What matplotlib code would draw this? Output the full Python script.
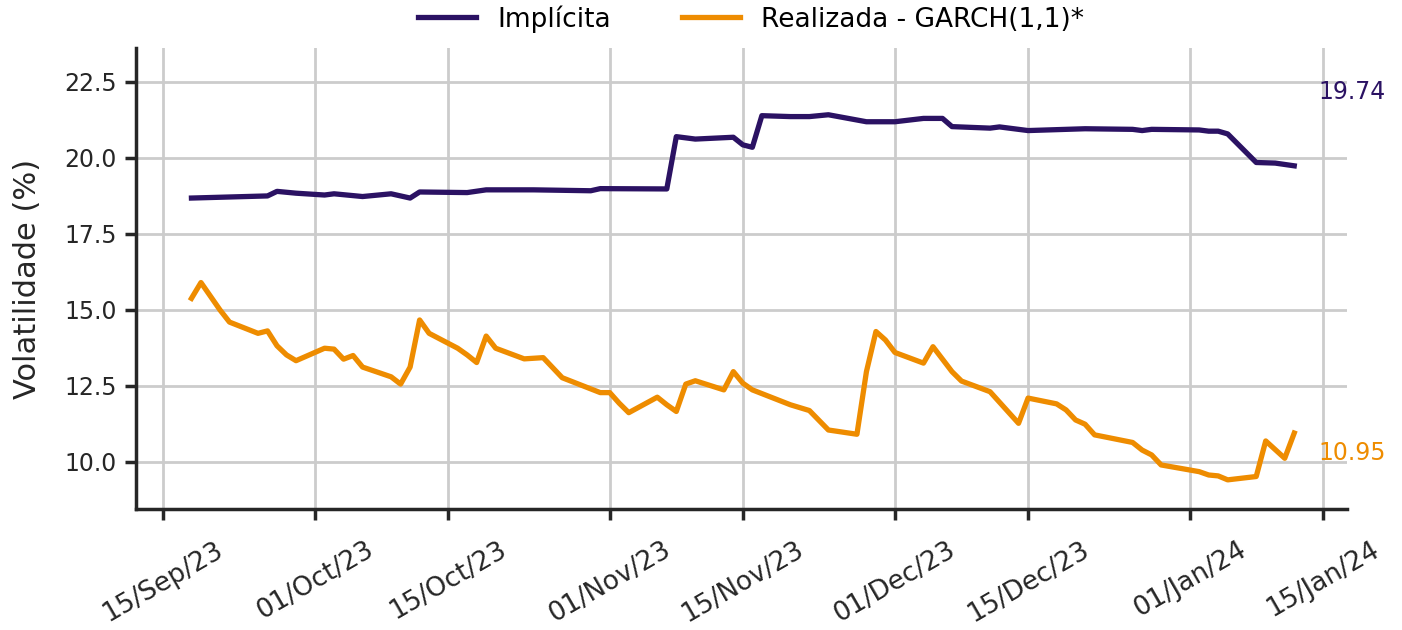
import pandas as pd
import matplotlib.pyplot as plt
import matplotlib.dates as mdates

plt.rcParams['font.family'] = ['DejaVu Sans']

impl_dates = ['2023-09-18', '2023-09-26', '2023-09-27', '2023-09-29', '2023-10-02', '2023-10-03',
              '2023-10-06', '2023-10-09', '2023-10-11', '2023-10-12', '2023-10-17', '2023-10-19',
              '2023-10-24', '2023-10-30', '2023-10-31', '2023-11-07', '2023-11-08', '2023-11-10',
              '2023-11-14', '2023-11-15', '2023-11-16', '2023-11-17', '2023-11-20', '2023-11-22',
              '2023-11-24', '2023-11-28', '2023-12-01', '2023-12-04', '2023-12-06', '2023-12-07',
              '2023-12-11', '2023-12-12', '2023-12-15', '2023-12-21', '2023-12-26', '2023-12-27',
              '2023-12-28', '2024-01-02', '2024-01-03', '2024-01-04', '2024-01-05', '2024-01-08',
              '2024-01-10', '2024-01-12']
impl_vals = [18.68, 18.75, 18.90, 18.84, 18.78, 18.82,
             18.73, 18.82, 18.68, 18.88, 18.86, 18.95,
             18.95, 18.92, 18.99, 18.98, 20.70, 20.62,
             20.68, 20.43, 20.35, 21.39, 21.36, 21.36,
             21.42, 21.19, 21.19, 21.30, 21.30, 21.03,
             20.98, 21.02, 20.90, 20.96, 20.94, 20.90,
             20.94, 20.92, 20.88, 20.88, 20.79, 19.85,
             19.83, 19.74]

garch_dates = ['2023-09-18', '2023-09-19', '2023-09-21', '2023-09-22', '2023-09-25', '2023-09-26',
               '2023-09-27', '2023-09-28', '2023-09-29', '2023-10-02', '2023-10-03', '2023-10-04',
               '2023-10-05', '2023-10-06', '2023-10-09', '2023-10-10', '2023-10-11', '2023-10-12',
               '2023-10-13', '2023-10-16', '2023-10-17', '2023-10-18', '2023-10-19', '2023-10-20',
               '2023-10-23', '2023-10-25', '2023-10-27', '2023-10-31', '2023-11-01', '2023-11-02',
               '2023-11-03', '2023-11-06', '2023-11-07', '2023-11-08', '2023-11-09', '2023-11-10',
               '2023-11-13', '2023-11-14', '2023-11-15', '2023-11-16', '2023-11-20', '2023-11-22',
               '2023-11-24', '2023-11-27', '2023-11-28', '2023-11-29', '2023-11-30', '2023-12-01',
               '2023-12-04', '2023-12-05', '2023-12-07', '2023-12-08', '2023-12-11', '2023-12-14',
               '2023-12-15', '2023-12-18', '2023-12-19', '2023-12-20', '2023-12-21', '2023-12-22',
               '2023-12-26', '2023-12-27', '2023-12-28', '2023-12-29', '2024-01-02', '2024-01-03',
               '2024-01-04', '2024-01-05', '2024-01-08', '2024-01-09', '2024-01-11', '2024-01-12']
garch_vals = [15.38, 15.90, 15.00, 14.60, 14.23, 14.31,
              13.82, 13.52, 13.33, 13.74, 13.71, 13.38,
              13.50, 13.12, 12.80, 12.56, 13.12, 14.67,
              14.23, 13.74, 13.52, 13.27, 14.14, 13.74,
              13.39, 13.43, 12.77, 12.28, 12.28, 11.93,
              11.62, 12.13, 11.88, 11.66, 12.56, 12.67,
              12.37, 12.97, 12.59, 12.37, 11.88, 11.69,
              11.05, 10.91, 12.97, 14.29, 14.01, 13.60,
              13.25, 13.79, 12.97, 12.66, 12.31, 11.27,
              12.10, 11.91, 11.71, 11.38, 11.24, 10.89,
              10.64, 10.39, 10.23, 9.90, 9.68, 9.57,
              9.54, 9.41, 9.52, 10.69, 10.12, 10.95]

x_ticks = ['2023-09-15', '2023-10-01', '2023-10-15', '2023-11-01', '2023-11-15',
           '2023-12-01', '2023-12-15', '2024-01-01', '2024-01-15']

purple = '#2b1263'
orange = '#ee8c00'
dark = '#262626'

fig = plt.figure(figsize=(14.02, 6.3), dpi=100)
ax = fig.add_axes([0.097, 0.192, 0.864, 0.732])

ax.plot(pd.to_datetime(impl_dates), impl_vals, color=purple, lw=3.8, label='Implícita')
ax.plot(pd.to_datetime(garch_dates), garch_vals, color=orange, lw=3.8, label='Realizada - GARCH(1,1)*')

ax.set_xlim(pd.Timestamp('2023-09-12 04:00'), pd.Timestamp('2024-01-17 14:00'))
ax.set_ylim(8.45, 23.62)
ax.set_yticks([10.0, 12.5, 15.0, 17.5, 20.0, 22.5])
ax.set_xticks(pd.to_datetime(x_ticks))
ax.xaxis.set_major_formatter(mdates.DateFormatter('%d/%b/%y'))

ax.grid(True, color='#cccccc', lw=2)
ax.set_axisbelow(True)
for s in ['top', 'right']:
    ax.spines[s].set_visible(False)
for s in ['left', 'bottom']:
    ax.spines[s].set_linewidth(2.5)
    ax.spines[s].set_color(dark)

ax.tick_params(axis='both', length=8, width=2.5, color=dark, labelcolor=dark)
ax.tick_params(axis='y', labelsize=17, pad=6)
ax.tick_params(axis='x', labelsize=19, pad=12)
plt.setp(ax.get_xticklabels(), rotation=30, ha='center')
ax.set_ylabel('Volatilidade (%)', fontsize=22, color=dark, labelpad=16)

ax.text(0.976, 22.17, '19.74', transform=ax.get_yaxis_transform(), color=purple,
        fontsize=17, va='center', ha='left')
ax.text(0.976, 10.3, '10.95', transform=ax.get_yaxis_transform(), color=orange,
        fontsize=17, va='center', ha='left')

ax.legend(loc='center', bbox_to_anchor=(0.508, 1.063), ncol=2, frameon=False,
          fontsize=19, handlelength=2.2, handletextpad=0.8, columnspacing=2.7,
          borderaxespad=0, borderpad=0)

fig.savefig('out.png', dpi=100)
